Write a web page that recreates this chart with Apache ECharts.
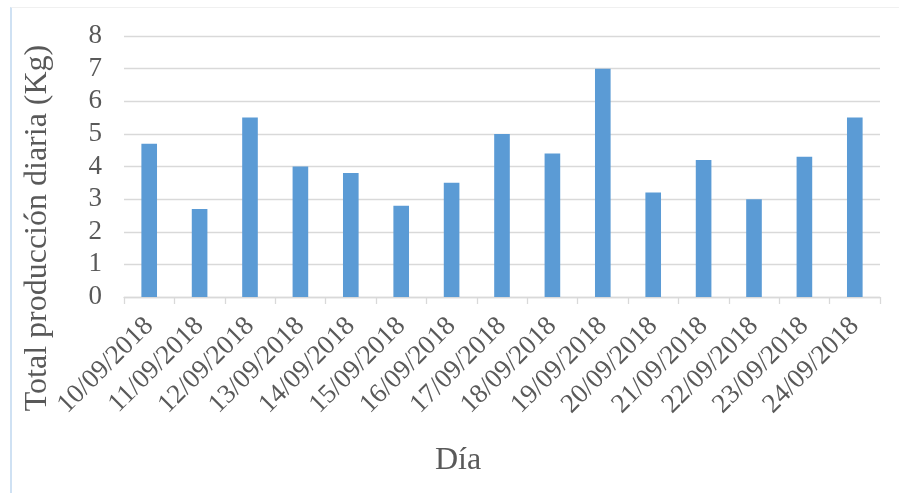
<!DOCTYPE html>
<html>
<head>
<meta charset="utf-8">
<script src="https://cdn.jsdelivr.net/npm/echarts@6/dist/echarts.min.js"></script>
<style>
  html, body { margin: 0; padding: 0; background: #fff; }
  #wrap { position: relative; width: 899px; height: 493px; }
  #frame {
    position: absolute; left: 10px; top: 7px; right: 0; bottom: 0;
    border-left: 2px solid #cfe1f3; border-top: 1px solid #f0f0f0;
    pointer-events: none;
  }
  #chart { position: absolute; left: 0; top: 0; width: 899px; height: 493px; }
</style>
</head>
<body>
<div id="wrap">
  <div id="chart"></div>
  <div id="frame"></div>
</div>
<script>
const days = [
  "10/09/2018", "11/09/2018", "12/09/2018", "13/09/2018", "14/09/2018",
  "15/09/2018", "16/09/2018", "17/09/2018", "18/09/2018", "19/09/2018",
  "20/09/2018", "21/09/2018", "22/09/2018", "23/09/2018", "24/09/2018"
];
const production = [4.7, 2.7, 5.5, 4.0, 3.8, 2.8, 3.5, 5.0, 4.4, 7.0, 3.2, 4.2, 3.0, 4.3, 5.5];
const yTicks = [0, 1, 2, 3, 4, 5, 6, 7, 8];

const yTitle = "Total producción diaria (Kg)";
const xTitle = "Día";

const font = "'Liberation Serif', 'Times New Roman', serif";
const textColor = "#595959";
const lineColor = "#d9d9d9";

const chart = echarts.init(document.getElementById("chart"), null, { renderer: "canvas" });

const option = {
  animation: false,
  grid: {
    left: 124,
    right: 19,
    top: 36,
    bottom: 196,
    outerBoundsMode: "none"
  },
  xAxis: {
    type: "category",
    data: days,
    boundaryGap: true,
    axisLine: { lineStyle: { color: lineColor, width: 1.3 } },
    axisTick: { show: true, length: 7, lineStyle: { color: lineColor, width: 1.3 } },
    axisLabel: {
      rotate: 45,
      interval: 0,
      margin: 25,
      color: textColor,
      fontFamily: font,
      fontSize: 27
    }
  },
  yAxis: {
    type: "value",
    min: yTicks[0],
    max: yTicks[yTicks.length - 1],
    interval: 1,
    axisLine: { show: false },
    axisTick: { show: false },
    splitLine: { lineStyle: { color: lineColor, width: 1.3 } },
    axisLabel: {
      margin: 22,
      color: textColor,
      fontFamily: font,
      fontSize: 27
    }
  },
  series: [
    {
      type: "bar",
      data: production,
      barWidth: "31%",
      itemStyle: { color: "#5b9bd5" }
    }
  ],
  graphic: [
    {
      type: "text",
      x: 38,
      y: 228,
      rotation: Math.PI / 2,
      style: {
        text: yTitle,
        fill: textColor,
        font: "32px " + font,
        align: "center",
        verticalAlign: "middle"
      }
    },
    {
      type: "text",
      x: 458,
      y: 461,
      style: {
        text: xTitle,
        fill: textColor,
        font: "32px " + font,
        align: "center",
        verticalAlign: "middle"
      }
    }
  ]
};

chart.setOption(option);
</script>
</body>
</html>
